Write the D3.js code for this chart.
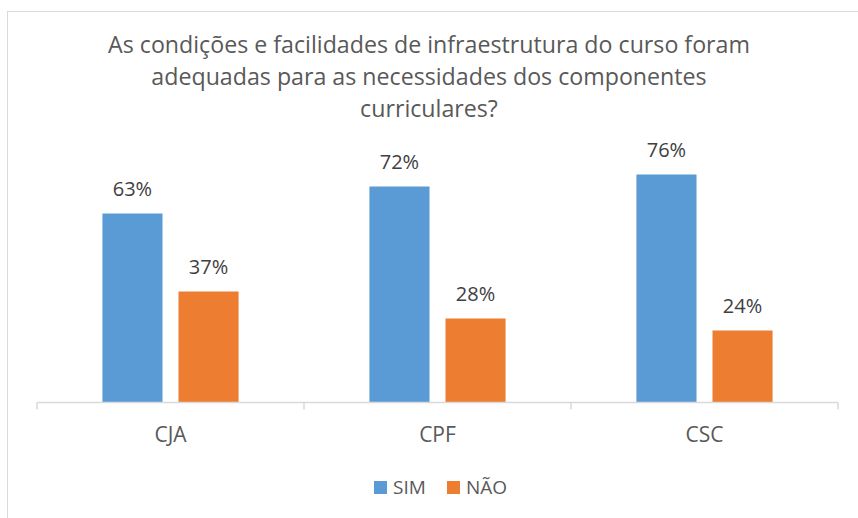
<html>
<head>
<meta charset="utf-8">
<style>
body { margin: 0; background: #fff; }
text { font-family: "Open Sans", Lato, sans-serif; }
</style>
<script src="https://d3js.org/d3.v7.min.js"></script>
</head>
<body>
<div id="chart"></div>
<script>
// data
var titleLines = ["As condições e facilidades de infraestrutura do curso foram",
                  "adequadas para as necessidades dos componentes",
                  "curriculares?"];
var categories = ["CJA", "CPF", "CSC"];
var seriesNames = ["SIM", "NÃO"];
var simValues = [63, 72, 76];
var naoValues = [37, 28, 24];
var colors = ["#5B9BD5", "#ED7D31"];

var W = 858, H = 518;
var svg = d3.select("#chart").append("svg")
    .attr("width", W).attr("height", H);

// chart area border
svg.append("rect")
    .attr("x", 7.5).attr("y", 11.5)
    .attr("width", W + 10).attr("height", H + 10)
    .attr("fill", "#fff").attr("stroke", "#d9d9d9").attr("stroke-width", 1);

// title
var title = svg.append("text")
    .attr("text-anchor", "middle")
    .attr("fill", "#595959")
    .style("font-size", "21px");
title.selectAll("tspan")
    .data(titleLines)
    .enter().append("tspan")
    .attr("x", 429)
    .attr("y", function(d, i) { return 53 + i * 32; })
    .text(function(d) { return d; });
// fit first line to the width seen in the picture (~642px)
var firstLen = title.select("tspan").node().getComputedTextLength();
if (firstLen > 0) title.style("font-size", (21 * 642 / firstLen).toFixed(2) + "px");

// scales
var x0 = d3.scaleBand().domain(categories).range([37, 838]);
var x1 = d3.scaleBand().domain(seriesNames).range([0, x0.bandwidth()])
    .paddingInner(0.21).paddingOuter(0.86);
var y = d3.scaleLinear().domain([0, 80]).range([402.5, 162.5]);

var rows = categories.map(function(c, i) {
  return {cat: c, vals: [{s: "SIM", v: simValues[i]}, {s: "NÃO", v: naoValues[i]}]};
});

var groups = svg.selectAll(".grp")
    .data(rows)
    .enter().append("g")
    .attr("class", "grp")
    .attr("transform", function(d) { return "translate(" + x0(d.cat) + ",0)"; });

groups.selectAll("rect")
    .data(function(d) { return d.vals; })
    .enter().append("rect")
    .attr("x", function(d) { return x1(d.s); })
    .attr("width", x1.bandwidth())
    .attr("y", function(d) { return y(d.v); })
    .attr("height", function(d) { return y(0) - y(d.v); })
    .attr("fill", function(d, i) { return colors[i]; });

groups.selectAll(".lbl")
    .data(function(d) { return d.vals; })
    .enter().append("text")
    .attr("class", "lbl")
    .attr("text-anchor", "middle")
    .attr("x", function(d) { return x1(d.s) + x1.bandwidth() / 2; })
    .attr("y", function(d) { return y(d.v) - 18; })
    .attr("fill", "#404040")
    .style("font-size", "20px")
    .text(function(d) { return d.v + "%"; });

// x axis with ticks at category boundaries
var axis = svg.append("g").attr("transform", "translate(0," + y(0) + ")");
axis.append("line")
    .attr("x1", 37).attr("x2", 838)
    .attr("stroke", "#d9d9d9").attr("stroke-width", 1.5);
var bounds = categories.map(function(c) { return x0(c); }).concat([838]);
axis.selectAll(".tick")
    .data(bounds)
    .enter().append("line")
    .attr("x1", function(d) { return d; }).attr("x2", function(d) { return d; })
    .attr("y1", 0).attr("y2", 7)
    .attr("stroke", "#d9d9d9").attr("stroke-width", 1.5);
axis.selectAll(".cat")
    .data(categories)
    .enter().append("text")
    .attr("text-anchor", "middle")
    .attr("x", function(d) { return x0(d) + x0.bandwidth() / 2; })
    .attr("y", 39)
    .attr("fill", "#595959")
    .style("font-size", "21px")
    .text(function(d) { return d; });

// legend
var legendX = [374, 447];
var legend = svg.selectAll(".leg")
    .data(seriesNames)
    .enter().append("g")
    .attr("transform", function(d, i) { return "translate(" + legendX[i] + ",481)"; });
legend.append("rect")
    .attr("width", 13).attr("height", 13)
    .attr("fill", function(d, i) { return colors[i]; });
legend.append("text")
    .attr("x", 19).attr("y", 13)
    .attr("fill", "#595959")
    .style("font-size", "19px")
    .text(function(d) { return d; });
</script>
</body>
</html>
